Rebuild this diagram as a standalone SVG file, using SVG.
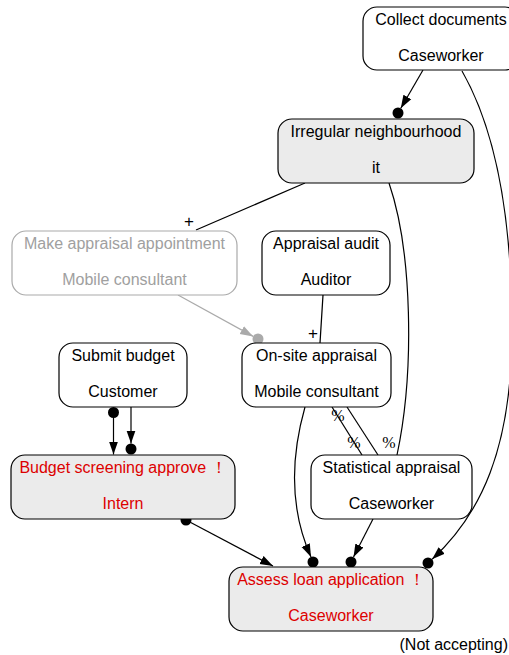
<svg xmlns="http://www.w3.org/2000/svg" width="509" height="655" viewBox="0 0 509 655">
<style>
.n rect{fill:#fff;stroke:#000;stroke-width:1.2}
.n.g rect{fill:#ebebeb}
.n.dis rect{stroke:#aaa}
text{font-family:"Liberation Sans",Arial,Helvetica,sans-serif;font-size:16px;text-anchor:middle;fill:#000}
.red text{fill:#dd0000}
.dis text{fill:#a0a0a0}
.e{fill:none;stroke:#000;stroke-width:1.2}
.e.gr{stroke:#aaa}
.dot{fill:#000}
.dot.gr{fill:#aaa}
.lbl{font-size:17px}
.pct{font-family:"Liberation Serif","Times New Roman",serif;font-size:16px}
</style>
<defs>
<marker id="arr" viewBox="0 0 13 10" refX="13" refY="5" markerWidth="13" markerHeight="10" markerUnits="userSpaceOnUse" orient="auto">
<path d="M0,0.5 L13,5 L0,9.5 z" fill="#000"/>
</marker>
<marker id="arrg" viewBox="0 0 13 10" refX="13" refY="5" markerWidth="13" markerHeight="10" markerUnits="userSpaceOnUse" orient="auto">
<path d="M0,0.5 L13,5 L0,9.5 z" fill="#aaa"/>
</marker>
</defs>
<g id="edges">
<path class="e" d="M423,70 L400.8,108.2" marker-end="url(#arr)"/>
<circle class="dot" cx="398" cy="113" r="5.5"/>
<path class="e" d="M462,71 C490,120 512,200 512,330 C512,450 480,515 432.1,559.3" marker-end="url(#arr)"/>
<circle class="dot" cx="428" cy="563" r="5.5"/>
<path class="e" d="M305,183 L196,230"/>
<text class="lbl" x="189" y="227">+</text>
<path class="e" d="M389,183 C412,250 415,370 397,455"/>
<text class="pct" x="389" y="448">%</text>
<path class="e gr" d="M178,295 L253.2,336.4" marker-end="url(#arrg)"/>
<circle class="dot gr" cx="258" cy="339" r="5.5"/>
<path class="e" d="M323,295 L320,343"/>
<text class="lbl" x="313" y="339">+</text>
<circle class="dot" cx="113.5" cy="412.5" r="5.5"/>
<path class="e" d="M113.5,412.5 L113.5,454.5" marker-end="url(#arr)"/>
<path class="e" d="M131,407 L131,443.5" marker-end="url(#arr)"/>
<circle class="dot" cx="131" cy="449" r="5.5"/>
<path class="e" d="M332,407 L362,455"/>
<path class="e" d="M347,407 L378,455"/>
<text class="pct" x="338" y="421">%</text>
<text class="pct" x="354" y="448">%</text>
<path class="e" d="M305,407 C290,460 290,510 311,557" marker-end="url(#arr)"/>
<circle class="dot" cx="313" cy="562" r="5.5"/>
<path class="e" d="M373,519 L353.5,557.1" marker-end="url(#arr)"/>
<circle class="dot" cx="351" cy="562" r="5.5"/>
<circle class="dot" cx="186" cy="520" r="5.5"/>
<path class="e" d="M186,520 L273,566" marker-end="url(#arr)"/>
</g>
<g id="n-collect" class="n">
<rect x="363" y="7" width="156" height="63" rx="14"/>
<text x="441" y="25">Collect documents</text>
<text x="441" y="61">Caseworker</text>
</g>
<g id="n-irregular" class="n g">
<rect x="278" y="119" width="196" height="64" rx="14"/>
<text x="376" y="137">Irregular neighbourhood</text>
<text x="376" y="173">it</text>
</g>
<g id="n-make" class="n dis">
<rect x="12" y="231" width="225" height="64" rx="14"/>
<text x="124.5" y="249">Make appraisal appointment</text>
<text x="124.5" y="285">Mobile consultant</text>
</g>
<g id="n-audit" class="n">
<rect x="262" y="231" width="128" height="64" rx="14"/>
<text x="326" y="249">Appraisal audit</text>
<text x="326" y="285">Auditor</text>
</g>
<g id="n-submit" class="n">
<rect x="59" y="343" width="128" height="64" rx="14"/>
<text x="123" y="361">Submit budget</text>
<text x="123" y="397">Customer</text>
</g>
<g id="n-onsite" class="n">
<rect x="242" y="343" width="149" height="64" rx="14"/>
<text x="316.5" y="361">On-site appraisal</text>
<text x="316.5" y="397">Mobile consultant</text>
</g>
<g id="n-budget" class="n g red">
<rect x="11" y="455" width="224" height="64" rx="14"/>
<text x="123" y="473">Budget screening approve ！</text>
<text x="123" y="509">Intern</text>
</g>
<g id="n-stat" class="n">
<rect x="311" y="455" width="161" height="64" rx="14"/>
<text x="391.5" y="473">Statistical appraisal</text>
<text x="391.5" y="509">Caseworker</text>
</g>
<g id="n-assess" class="n g red">
<rect x="229" y="567" width="204" height="64" rx="14"/>
<text x="331" y="585">Assess loan application ！</text>
<text x="331" y="621">Caseworker</text>
</g>
<text x="508" y="650" style="text-anchor:end">(Not accepting)</text>
</svg>
